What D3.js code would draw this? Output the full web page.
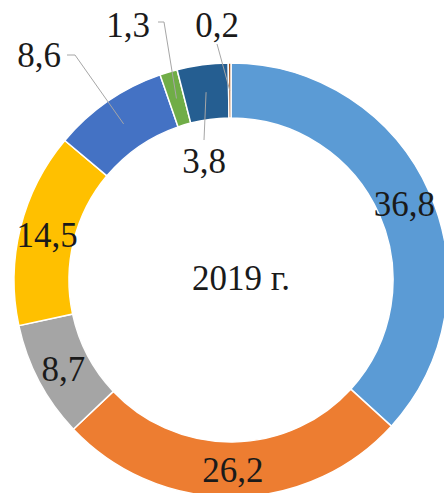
<!DOCTYPE html>
<html lang="ru">
<head>
  <meta charset="UTF-8">
  <title>2019 г.</title>
  <script src="https://d3js.org/d3.v7.min.js"></script>
  <style>
    body {
      margin: 0;
      padding: 0;
      background: #fff;
    }
    .label {
      font-family: "Liberation Serif", "DejaVu Serif", serif;
      font-size: 35px;
      fill: #1a1a1a;
      text-anchor: middle;
    }
    .leader {
      fill: none;
      stroke: #a6a6a6;
      stroke-width: 1;
    }
  </style>
</head>
<body>
  <div id="chart"></div>

  <script>
    // shares by segment, clockwise from 12 o'clock
    const categories = ["s1", "s2", "s3", "s4", "s5", "s6", "s7", "s8"];
    const values = [36.8, 26.2, 8.7, 14.5, 8.6, 1.3, 3.8, 0.2];
    const colors = ["#5b9bd5", "#ed7d31", "#a5a5a5", "#ffc000", "#4472c4", "#70ad47", "#255e91", "#9e480e"];
    const centerTitle = "2019 г.";

    const width = 444;
    const height = 493;
    const cx = 231, cy = 280;
    const outerR = 217, innerR = 162;

    // labels that sit outside their slice, with leader lines
    // (label centre x, baseline y, and the bend point of the line)
    const callouts = {
      s5: { x: 39, y: 67, line: [[67, 55], [75, 55]] },
      s6: { x: 128, y: 37, line: [[158, 22], [164, 22]] },
      s7: { x: 204, y: 173, line: [[204, 140]] },
      s8: { x: 217, y: 37, line: [[217, 44]] }
    };

    const ru = d3.formatLocale({ decimal: ",", thousands: " ", grouping: [3], currency: ["", " ₽"] });
    const fmt = ru.format(".1f");

    const data = categories.map((c, i) => ({ cat: c, value: values[i], color: colors[i] }));

    const svg = d3.select("#chart").append("svg")
      .attr("width", width)
      .attr("height", height);

    const g = svg.append("g")
      .attr("transform", `translate(${cx},${cy})`);

    const pie = d3.pie()
      .sort(null)
      .value(d => d.value);

    const arc = d3.arc()
      .innerRadius(innerR)
      .outerRadius(outerR);

    const arcs = pie(data);

    g.selectAll("path.slice")
      .data(arcs)
      .enter().append("path")
      .attr("class", "slice")
      .attr("d", arc)
      .attr("fill", d => d.data.color)
      .attr("stroke", "#fff")
      .attr("stroke-width", 1.5);

    // inside labels at the centroid
    g.selectAll("text.inside")
      .data(arcs.filter(d => !callouts[d.data.cat]))
      .enter().append("text")
      .attr("class", "label inside")
      .attr("x", d => arc.centroid(d)[0])
      .attr("y", d => arc.centroid(d)[1])
      .attr("dy", "0.35em")
      .text(d => fmt(d.data.value));

    // outside labels + leader lines
    const outside = arcs.filter(d => callouts[d.data.cat]);

    svg.selectAll("polyline.leader")
      .data(outside)
      .enter().append("polyline")
      .attr("class", "leader")
      .attr("points", d => {
        const c = arc.centroid(d);
        const pts = callouts[d.data.cat].line.concat([[c[0] + cx, c[1] + cy]]);
        return pts.map(p => p.join(",")).join(" ");
      });

    svg.selectAll("text.outside")
      .data(outside)
      .enter().append("text")
      .attr("class", "label outside")
      .attr("x", d => callouts[d.data.cat].x)
      .attr("y", d => callouts[d.data.cat].y)
      .text(d => fmt(d.data.value));

    svg.append("text")
      .attr("class", "label")
      .attr("x", cx + 10)
      .attr("y", 290)
      .text(centerTitle);
  </script>
</body>
</html>
